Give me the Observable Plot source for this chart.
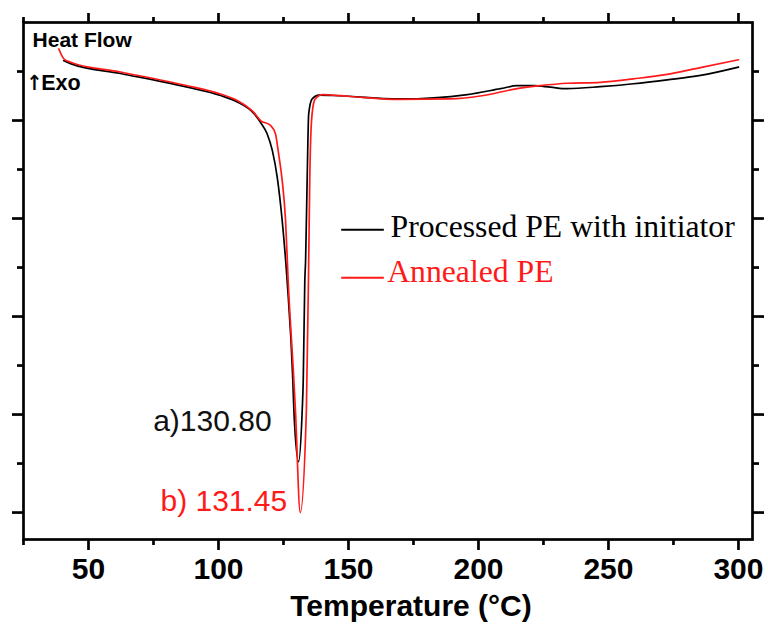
<!DOCTYPE html>
<html>
<head>
<meta charset="utf-8">
<script src="https://cdn.jsdelivr.net/npm/d3@7"></script>
<script src="https://cdn.jsdelivr.net/npm/@observablehq/plot@0.6"></script>
<style>
  body { margin: 0; background: #fff; }
</style>
</head>
<body>
<div id="chart"></div>
<script>
// ---- Data ----
// Processed PE with initiator (black)
const tempProcessed = [40.5, 43.1, 62.3, 88.0, 100.8, 107.2, 113.5, 116.2, 118.7, 120.7, 122.6, 124.5, 126.4, 128.6, 129.0, 130.8, 132.2, 132.6, 133.2, 133.5, 134.1, 134.7, 136.0, 138.6, 144.2, 170.0, 195.7, 208.5, 214.9, 221.2, 227.7, 234.1, 246.9, 259.6, 272.6, 285.4, 300.0];
const heatProcessed = [9.22, 9.16, 8.96, 8.68, 8.51, 8.38, 8.15, 7.96, 7.73, 7.39, 6.84, 5.96, 4.73, 2.69, 2.08, 1.04, 2.08, 2.69, 4.73, 5.14, 6.78, 8.14, 8.44, 8.52, 8.51, 8.44, 8.53, 8.65, 8.71, 8.71, 8.68, 8.65, 8.69, 8.75, 8.83, 8.92, 9.09];

// Annealed PE (red)
const tempAnnealed = [38.6, 40.5, 43.1, 62.3, 88.0, 100.8, 107.2, 113.5, 116.2, 120.0, 121.9, 123.1, 124.5, 125.8, 126.8, 129.0, 129.6, 131.45, 133.8, 134.7, 135.1, 135.8, 136.9, 138.0, 139.9, 150.8, 170.0, 189.2, 201.9, 214.9, 223.8, 234.1, 246.9, 259.6, 272.6, 285.4, 300.0];
const heatAnnealed = [9.46, 9.26, 9.19, 8.99, 8.71, 8.54, 8.41, 8.17, 8.00, 7.90, 7.73, 7.33, 6.78, 5.96, 4.73, 2.69, 2.08, 0.00, 2.08, 5.14, 6.78, 8.00, 8.41, 8.48, 8.53, 8.49, 8.43, 8.44, 8.51, 8.65, 8.71, 8.76, 8.78, 8.85, 8.94, 9.08, 9.24];

// Peak temperatures
const peakProcessed = 130.80;
const peakAnnealed = 131.45;

// Series names and colours
const seriesNames = ["Processed PE with initiator", "Annealed PE"];
const seriesColors = ["#000000", "#ff1a1a"];

// Axis ticks
const xMajorTicks = [50, 100, 150, 200, 250, 300];
const xMinorTicks = [25, 75, 125, 175, 225, 275];
const yMajorTicks = [0, 2, 4, 6, 8];
const yMinorTicks = [1, 3, 5, 7, 9];

// ---- Build tables ----
const processed = tempProcessed.map((t, i) => ({T: t, H: heatProcessed[i]}));
const annealed = tempAnnealed.map((t, i) => ({T: t, H: heatAnnealed[i]}));
const peakP = processed.find(d => d.T === peakProcessed);
const peakA = annealed.find(d => d.T === peakAnnealed);

const legend = [
  {name: seriesNames[0], color: seriesColors[0], y: 5.77, ty: 5.62, tx: 166.2},
  {name: seriesNames[1], color: seriesColors[1], y: 4.79, ty: 4.71, tx: 164.9}
];

const axisStyle = {stroke: "#000", strokeWidth: 2.7, fontFamily: "Liberation Sans, Arial, sans-serif"};

const chart = Plot.plot({
  width: 768,
  height: 626,
  marginLeft: 23,
  marginRight: 16,
  marginTop: 22,
  marginBottom: 87,
  x: {domain: [25, 305.4], axis: null},
  y: {domain: [-0.55, 10], axis: null},
  style: {background: "#fff", fontFamily: "Liberation Sans, Arial, sans-serif", overflow: "visible"},
  marks: [
    // curves
    Plot.line(processed, {x: "T", y: "H", stroke: seriesColors[0], strokeWidth: 1.7, curve: "monotone-x"}),
    Plot.line(annealed, {x: "T", y: "H", stroke: seriesColors[1], strokeWidth: 1.7, curve: "monotone-x"}),

    // frame
    Plot.frame({stroke: "#000", strokeWidth: 2.7}),

    // bottom axis
    Plot.axisX({...axisStyle, ticks: xMajorTicks, anchor: "bottom", tickSize: 11, tickPadding: 7,
      tickFormat: d => String(d), fontSize: 30, fontWeight: "bold", fill: "#000", label: null}),
    Plot.axisX({...axisStyle, ticks: xMinorTicks, anchor: "bottom", tickSize: 6, tickFormat: () => "", label: null}),
    // top axis
    Plot.axisX({...axisStyle, ticks: xMajorTicks, anchor: "top", tickSize: 10, tickFormat: () => "", label: null}),
    Plot.axisX({...axisStyle, ticks: xMinorTicks, anchor: "top", tickSize: 6, tickFormat: () => "", label: null}),
    // left axis
    Plot.axisY({...axisStyle, ticks: yMajorTicks, anchor: "left", tickSize: 11, tickFormat: () => "", label: null}),
    Plot.axisY({...axisStyle, ticks: yMinorTicks, anchor: "left", tickSize: 6, tickFormat: () => "", label: null}),
    // right axis
    Plot.axisY({...axisStyle, ticks: yMajorTicks, anchor: "right", tickSize: 11, tickFormat: () => "", label: null}),
    Plot.axisY({...axisStyle, ticks: yMinorTicks, anchor: "right", tickSize: 6, tickFormat: () => "", label: null}),

    // x axis title
    Plot.text(["Temperature (°C)"], {frameAnchor: "bottom", text: d => d, dx: 23, dy: 76, lineAnchor: "bottom",
      fontSize: 30, fontWeight: "bold", fill: "#000", fontFamily: "Liberation Sans, Arial, sans-serif"}),

    // Heat flow label
    Plot.text([{x: 28.5, y: 9.5, t: "Heat Flow"}], {x: "x", y: "y", text: "t", textAnchor: "start", lineAnchor: "bottom",
      fontSize: 21, fontWeight: "bold", fill: "#000"}),
    Plot.text([{x: 29.2, y: 8.63, t: "↑"}], {x: "x", y: "y", text: "t", textAnchor: "middle", lineAnchor: "bottom",
      fontSize: 21, fontWeight: "bold", fill: "#000", fontFamily: "DejaVu Sans Condensed, DejaVu Sans, sans-serif"}),
    Plot.text([{x: 31.8, y: 8.63, t: "Exo"}], {x: "x", y: "y", text: "t", textAnchor: "start", lineAnchor: "bottom",
      fontSize: 21.5, fontWeight: "bold", fill: "#000"}),

    // Peak labels anchored to the peak points
    Plot.text([peakP], {x: "T", y: "H", text: d => `a)${d.T.toFixed(2)}`, textAnchor: "end", lineAnchor: "bottom",
      dx: -27, dy: -31, fontSize: 30, fill: "#111"}),
    Plot.text([peakA], {x: "T", y: "H", text: d => `b) ${d.T.toFixed(2)}`, textAnchor: "end", lineAnchor: "bottom",
      dx: -13, dy: -2, fontSize: 30, fill: seriesColors[1]}),

    // Legend
    Plot.link(legend, {x1: 147.2, x2: 163.6, y1: "y", y2: "y", stroke: "color", strokeWidth: 2}),
    Plot.text(legend, {x: "tx", y: "ty", text: "name", fill: "color", textAnchor: "start", lineAnchor: "bottom",
      fontSize: 31.7, fontFamily: "Liberation Serif, Times New Roman, serif"})
  ]
});

document.getElementById("chart").appendChild(chart);
</script>
</body>
</html>
